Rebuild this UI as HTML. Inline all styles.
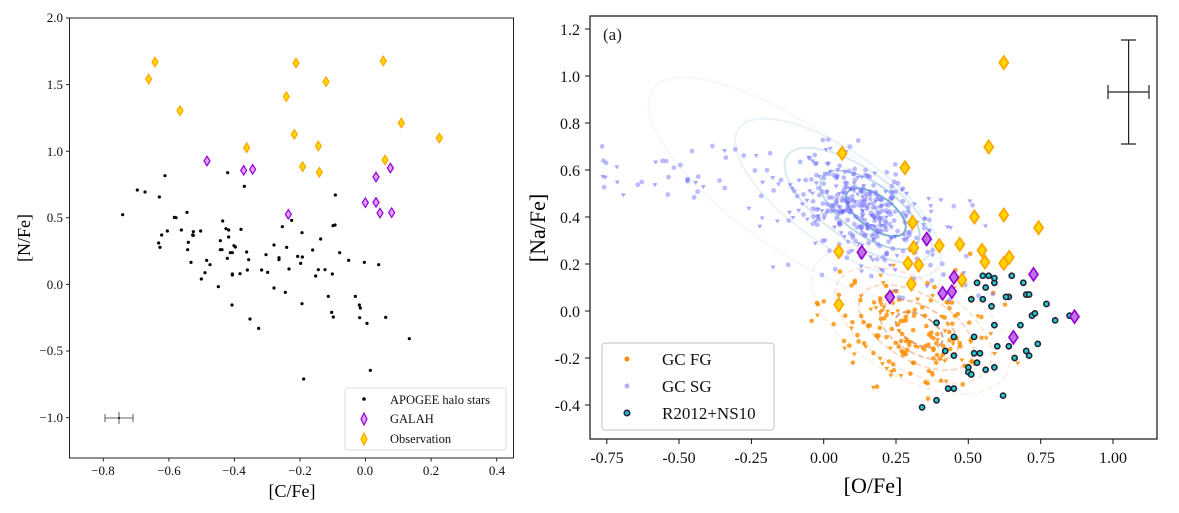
<!DOCTYPE html>
<html><head><meta charset="utf-8"><style>
html,body{margin:0;padding:0;background:#fff}
svg{display:block;font-family:"Liberation Serif","DejaVu Serif",serif}
</style></head><body>
<svg id="s" width="1179" height="513" viewBox="0 0 1179 513" xmlns="http://www.w3.org/2000/svg">
<rect width="1179" height="513" fill="#fff"/>
<g id="L"></g>
<g id="R"></g>
<rect x="69.5" y="18" width="444" height="440" fill="none" stroke="#222" stroke-width="1"/>
<g stroke="#222" stroke-width="1"><path d="M66 18h3.5M66 84.6h3.5M66 151.2h3.5M66 217.8h3.5M66 284.4h3.5M66 351h3.5M66 417.6h3.5"/>
<path d="M103.3 458v3.5M168.9 458v3.5M234.4 458v3.5M300 458v3.5M365.5 458v3.5M431.1 458v3.5M496.7 458v3.5"/></g>
<g font-size="13" fill="#111" text-anchor="end">
<text x="63" y="22">2.0</text><text x="63" y="89">1.5</text><text x="63" y="156">1.0</text><text x="63" y="222">0.5</text><text x="63" y="289">0.0</text><text x="63" y="355">−0.5</text><text x="63" y="422">−1.0</text>
</g>
<g font-size="13" fill="#111" text-anchor="middle">
<text x="103" y="475">−0.8</text><text x="169" y="475">−0.6</text><text x="234" y="475">−0.4</text><text x="300" y="475">−0.2</text><text x="365" y="475">0.0</text><text x="431" y="475">0.2</text><text x="497" y="475">0.4</text>
</g>
<text x="292" y="497" font-size="18" text-anchor="middle">[C/Fe]</text>
<text transform="translate(30,238) rotate(-90)" font-size="18" text-anchor="middle">[N/Fe]</text>
<rect x="345" y="388" width="161" height="62" fill="#fff" fill-opacity="0.85" stroke="#ddd" rx="2"/>
<circle cx="364" cy="399" r="1.8" fill="#000"/>
<path d="M364 413 l3 6 l-3 6 l-3 -6z" fill="#e0a0f5" stroke="#9400d3" stroke-width="1.2"/>
<path d="M364 433 l3 6 l-3 6 l-3 -6z" fill="#ffd700" stroke="#ffa500" stroke-width="1.2"/>
<g font-size="12.5" fill="#111"><text x="390" y="404">APOGEE halo stars</text><text x="390" y="423">GALAH</text><text x="390" y="443">Observation</text></g>
<g stroke="#333" stroke-width="0.8" fill="none"><path d="M105 418H133M105 414v8M133 414v8M119 412v12"/></g>
<circle cx="119" cy="418" r="1" fill="#000"/>
<rect x="590" y="16" width="567" height="423" fill="none" stroke="#111" stroke-width="1.2"/>
<text x="603" y="40" font-size="17" fill="#222">(a)</text>
<g font-size="16" fill="#111" text-anchor="end">
<text x="580" y="35">1.2</text><text x="580" y="82">1.0</text><text x="580" y="129">0.8</text><text x="580" y="176">0.6</text><text x="580" y="223">0.4</text><text x="580" y="270">0.2</text><text x="580" y="317">0.0</text><text x="580" y="364">-0.2</text><text x="580" y="411">-0.4</text>
</g>
<g stroke="#111" stroke-width="1"><path d="M585 29h5M585 76h5M585 123h5M585 170h5M585 217h5M585 264h5M585 311h5M585 358h5M585 405h5"/>
<path d="M606.8 439v5M679 439v5M751.4 439v5M823.7 439v5M896 439v5M968.3 439v5M1040.7 439v5M1113 439v5"/></g>
<g font-size="16" fill="#111" text-anchor="middle">
<text x="607" y="463">-0.75</text><text x="679" y="463">-0.50</text><text x="751" y="463">-0.25</text><text x="824" y="463">0.00</text><text x="896" y="463">0.25</text><text x="968" y="463">0.50</text><text x="1041" y="463">0.75</text><text x="1113" y="463">1.00</text>
</g>
<text x="873" y="493" font-size="22" text-anchor="middle">[O/Fe]</text>
<text transform="translate(545,228) rotate(-90)" font-size="22" text-anchor="middle">[Na/Fe]</text>
<g stroke="#222" stroke-width="1.2" fill="none"><path d="M1108 92H1149M1108 85v14M1149 85v14M1128.6 40V144M1121 40h15M1121 144h15"/></g>
<rect x="602" y="343" width="172" height="87" fill="#fff" fill-opacity="0.8" stroke="#ccc" stroke-width="1.2" rx="3"/>
<circle cx="627" cy="359" r="2.5" fill="#ff8c00"/>
<circle cx="627" cy="386" r="2.5" fill="#b0b0ff"/>
<circle cx="627" cy="413" r="2.8" fill="#2ad" stroke="#223" stroke-width="1.5"/>
<g font-size="17" fill="#111"><text x="662" y="365">GC FG</text><text x="662" y="392">GC SG</text><text x="662" y="419">R2012+NS10</text></g>
</svg>
<script>
var NS="http://www.w3.org/2000/svg";
function el(p,t,a){var e=document.createElementNS(NS,t);for(var k in a)e.setAttribute(k,a[k]);p.appendChild(e);return e;}
var L=document.getElementById('L'),R=document.getElementById('R');
function dia(p,x,y,w,h,f,s,sw){el(p,'path',{d:'M'+x+' '+(y-h)+'L'+(x+w)+' '+y+'L'+x+' '+(y+h)+'L'+(x-w)+' '+y+'Z',fill:f,stroke:s,'stroke-width':sw});}
var bk=[[368,644],[412,570],[435,576],[478,591],[495,527],[683,518],[733,559],[523,652],[528,653],[561,637],[502,693],[485,705],[476,729],[480,742],[544,690],[565,727],[563,749],[573,787],[580,695],[580,706],[578,705],[602,693],[604,837],[615,818],[620,781],[630,794],[655,860],[668,663],[678,686],[686,690],[661,722],[661,749],[666,749],[686,711],[682,775],[691,758],[697,758],[702,737],[706,741],[697,822],[697,825],[696,915],[720,821],[723,688],[740,756],[746,779],[742,810],[750,957],[776,985],[785,810],[798,764],[803,817],[822,735],[822,864],[837,773],[837,779],[847,680],[856,877],[860,742],[867,807],[875,661],[893,769],[902,790],[906,698],[907,771],[906,911],[911,1137],[938,750],[947,828],[955,809],[962,717],[975,809],[985,889],[995,937],[997,822],[999,677],[1000,951],[1006,585],[1005,675],[1019,758],[1046,781],[1066,889],[1078,915],[1081,924],[1079,953],[1093,787],[1101,970],[1111,1111],[1136,794],[1157,952],[1228,1016]];
bk.forEach(function(p){el(L,'circle',{cx:p[0]/3,cy:p[1]/3,r:1.6,fill:'#000'});});
[[621,483],[731,511],[758,508],[865,643],[1096,608],[1128,531],[1128,607],[1140,639],[1171,504],[1175,638]].forEach(function(p){dia(L,p[0]/3,p[1]/3,3,4.7,'#e0a0f5','#9400d3',1.2);});
[[446,237],[465,186],[540,332],[740,443],[859,290],[888,189],[883,403],[908,500],[955,438],[958,517],[978,245],[1150,183],[1155,480],[1204,369],[1318,414]].forEach(function(p){dia(L,p[0]/3,p[1]/3,3,4.7,'#ffd700','#ffa500',1.2);});
function X(v){return 1113+(v-1)*289.3;} function Y(v){return 29+(1.2-v)*235;}
function zx(z){return 606.8+(z-201)/2.388;}
var seed=11;function rnd(){seed=(seed*16807)%2147483647;return seed/2147483647;}
function g(){return Math.sqrt(-2*Math.log(rnd()+1e-9))*Math.cos(6.2832*rnd());}
var cb=el(R,'g',{fill:'none'});
[[0.18,0.42,0.12,0.07,'#5a9cc4',0.8],[0.16,0.43,0.2,0.11,'#8fbcd6',0.6],[0.12,0.45,0.3,0.15,'#b5d4e4',0.5],[0.05,0.48,0.42,0.2,'#d6e8f0',0.5],[-0.1,0.52,0.6,0.26,'#ecf4f8',0.5]].forEach(function(c){var cx=X(c[0]),cy=Y(c[1]);el(cb,'ellipse',{cx:cx,cy:cy,rx:c[2]*289,ry:c[3]*235,transform:'rotate(35 '+cx+' '+cy+')',stroke:c[4],'stroke-width':2,opacity:c[5]});});
[[0.33,-0.08,0.09,0.06,'#c87a50',0.7],[0.33,-0.08,0.15,0.1,'#e09a6a',0.55],[0.32,-0.07,0.22,0.14,'#f0b890',0.5],[0.31,-0.06,0.3,0.19,'#f8d4b8',0.5],[0.3,-0.04,0.38,0.24,'#fce6d6',0.5]].forEach(function(c){var cx=X(c[0]),cy=Y(c[1]);el(cb,'ellipse',{cx:cx,cy:cy,rx:c[2]*289,ry:c[3]*235,transform:'rotate(30 '+cx+' '+cy+')',stroke:c[4],'stroke-width':2,'stroke-dasharray':'6 3',opacity:c[5]});});
for(var i=0;i<190;i++){var o=0.3+0.16*g(),n=-0.08+0.13*g()-0.15*(o-0.3);if(o<-0.05||o>0.7||n<-0.42||n>0.28)continue;var x=X(o),y=Y(n);
 if(rnd()<0.3)el(R,'path',{d:'M'+(x-2.5)+' '+(y-2)+'h5l-2.5 4z',fill:'#ff8c00',opacity:0.85});else el(R,'circle',{cx:x,cy:y,r:2.3,fill:'#ff8c00',opacity:0.8});}
for(var i=0;i<440;i++){var o,n;var r=rnd();
 if(r<0.58){o=0.15+0.11*g();n=0.42+0.09*g()-0.5*(o-0.15);}
 else if(r<0.92){o=0.08+0.2*g();n=0.4+0.14*g()-0.4*(o-0.08);}
 else {o=-0.78+rnd()*0.6;n=0.45+0.25*rnd()-0.1*(o+0.5);}
 if(o<-0.8||o>0.6||n<-0.05||n>0.93)continue;var x=X(o),y=Y(n);
 if(rnd()<0.35)el(R,'path',{d:'M'+(x-2.5)+' '+(y-2)+'h5l-2.5 4z',fill:'#6a6aff',opacity:0.6});else el(R,'circle',{cx:x,cy:y,r:2.4,fill:'#7777ff',opacity:0.5});}
var rr=[[0.55,0.15],[0.57,0.15],[0.53,0.12],[0.56,0.1],[0.59,0.12],[0.59,0.14],[0.64,0.06],[0.65,0.15],[0.69,0.12],[0.7,0.07],[0.71,0.07],[0.63,0.06],[0.51,0.05],[0.55,0.05],[0.58,0.02],[0.72,-0.02],[0.73,-0.01],[0.77,0.03],[0.8,-0.04],[0.85,-0.02],[0.59,-0.06],[0.68,-0.06],[0.39,-0.05],[0.45,-0.11],[0.52,-0.11],[0.6,-0.15],[0.64,-0.15],[0.74,-0.14],[0.42,-0.17],[0.45,-0.19],[0.52,-0.18],[0.54,-0.18],[0.66,-0.2],[0.7,-0.17],[0.71,-0.19],[0.53,-0.22],[0.5,-0.24],[0.5,-0.26],[0.51,-0.27],[0.56,-0.25],[0.59,-0.24],[0.43,-0.33],[0.45,-0.33],[0.62,-0.36],[0.39,-0.38],[0.34,-0.41]];
rr.forEach(function(p){el(R,'circle',{cx:X(p[0]),cy:Y(p[1]),r:2.6,fill:'#2cc',stroke:'#223','stroke-width':1.6});});
[[763,460],[913,503],[1113,441],[1149,188],[931,668],[934,743],[995,737],[1044,733],[1079,651],[1149,645],[1232,683],[1097,751],[1104,786],[1149,790],[1162,772],[920,790],[946,795],[928,852],[1049,840],[755,755],[755,914]].forEach(function(p){dia(R,zx(p[0]),p[1]/3,4.5,6.5,'#ffd700','#ffa500',1.8);});
[[810,757],[965,717],[877,891],[1003,880],[1025,875],[1030,832],[1172,1012],[1220,823],[1318,950]].forEach(function(p){dia(R,zx(p[0]),p[1]/3,4.5,6.5,'#c070e8','#9400d3',1.6);});
</script>
</body></html>
